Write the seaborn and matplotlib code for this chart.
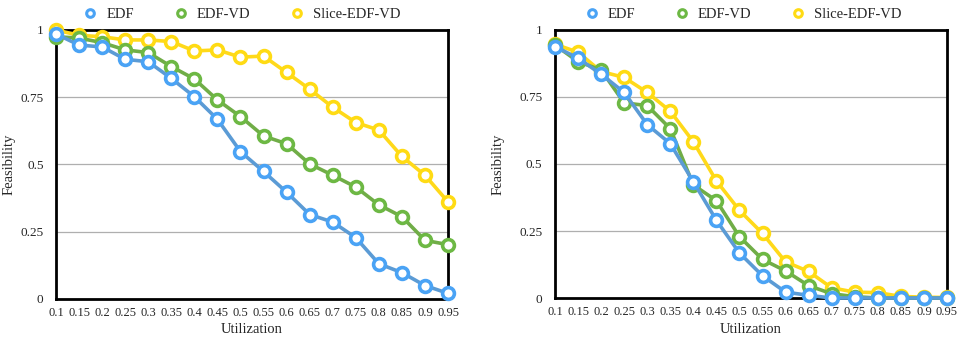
import numpy as np
import pandas as pd
import seaborn as sns
import matplotlib
matplotlib.use("Agg")
import matplotlib.pyplot as plt
from matplotlib.lines import Line2D

utilization = [0.1, 0.15, 0.2, 0.25, 0.3, 0.35, 0.4, 0.45, 0.5, 0.55,
               0.6, 0.65, 0.7, 0.75, 0.8, 0.85, 0.9, 0.95]

left_edf = [0.985, 0.944, 0.937, 0.891, 0.882, 0.82, 0.752, 0.668, 0.548, 0.474,
            0.397, 0.314, 0.286, 0.228, 0.131, 0.098, 0.05, 0.021]
left_edfvd = [0.975, 0.97, 0.953, 0.926, 0.916, 0.864, 0.818, 0.74, 0.678, 0.606,
              0.577, 0.502, 0.46, 0.416, 0.35, 0.306, 0.218, 0.202]
left_slice = [1.0, 0.98, 0.975, 0.963, 0.963, 0.957, 0.922, 0.926, 0.899, 0.903,
              0.842, 0.78, 0.713, 0.656, 0.628, 0.53, 0.46, 0.361]

right_edf = [0.938, 0.895, 0.835, 0.767, 0.647, 0.576, 0.434, 0.29, 0.168, 0.083,
             0.022, 0.01, 0.0, 0.0, 0.0, 0.0, 0.0, 0.0]
right_edfvd = [0.944, 0.882, 0.851, 0.728, 0.718, 0.632, 0.422, 0.363, 0.229, 0.144,
               0.101, 0.046, 0.016, 0.005, 0.0, 0.0, 0.0, 0.0]
right_slice = [0.947, 0.917, 0.845, 0.823, 0.767, 0.697, 0.583, 0.437, 0.327, 0.241,
               0.135, 0.099, 0.038, 0.022, 0.02, 0.006, 0.003, 0.002]

series_names = ["EDF", "EDF-VD", "Slice-EDF-VD"]
y_ticks = [0, 0.25, 0.5, 0.75, 1]
y_tick_labels = ["0", "0.25", "0.5", "0.75", "1"]
x_tick_labels = ["0.1", "0.15", "0.2", "0.25", "0.3", "0.35", "0.4", "0.45", "0.5", "0.55",
                 "0.6", "0.65", "0.7", "0.75", "0.8", "0.85", "0.9", "0.95"]

line_colors = {"EDF": "#5B9BD5", "EDF-VD": "#70AD47", "Slice-EDF-VD": "#FFD91A"}
marker_colors = {"EDF": "#4AA3F5", "EDF-VD": "#6DB844", "Slice-EDF-VD": "#FFDB14"}
zorders = {"EDF": 5, "EDF-VD": 4, "Slice-EDF-VD": 3}


def make_df(a, b, c):
    rows = []
    for name, vals in zip(series_names, [a, b, c]):
        for u, v in zip(utilization, vals):
            rows.append({"Utilization": u, "Feasibility": v, "Algorithm": name})
    return pd.DataFrame(rows)


sns.set_theme(style="white")
plt.rcParams["font.family"] = ["Liberation Serif", "DejaVu Serif"]

fig = plt.figure(figsize=(9.61, 3.40), dpi=100)
ax1 = fig.add_axes([0.0583, 0.1206, 0.4079, 0.7912])
ax2 = fig.add_axes([0.5775, 0.1235, 0.4079, 0.7883])

for ax, data, anchor_x, ylab_x in [
        (ax1, make_df(left_edf, left_edfvd, left_slice), 0.474, -0.104),
        (ax2, make_df(right_edf, right_edfvd, right_slice), 0.48, -0.128)]:
    sns.lineplot(data=data, x="Utilization", y="Feasibility", hue="Algorithm",
                 hue_order=series_names, palette=line_colors, ax=ax,
                 marker="o", markersize=8.5, linewidth=2.6, legend=False,
                 markerfacecolor="white", markeredgewidth=2.6)
    for line, name in zip(ax.lines, series_names):
        line.set_markeredgecolor(marker_colors[name])
        line.set_markerfacecolor("white")
        line.set_zorder(zorders[name])
        line.set_clip_on(False)
    ax.set_xlim(0.1, 0.95)
    ax.set_ylim(0, 1)
    ax.set_xticks(utilization)
    ax.set_xticklabels(x_tick_labels, fontsize=9)
    ax.set_yticks(y_ticks)
    ax.set_yticklabels(y_tick_labels, fontsize=9.5)
    ax.tick_params(axis="y", length=0, pad=9)
    ax.tick_params(axis="x", length=0, pad=6)
    for yv in [0.25, 0.5, 0.75]:
        ax.axhline(yv, color="#AFAFAF", linewidth=0.9, zorder=1)
    for sp in ax.spines.values():
        sp.set_color("black")
        sp.set_linewidth(2.0)
        sp.set_zorder(2)
    ax.set_xlabel("Utilization", fontsize=10.5, labelpad=3)
    ax.set_ylabel("Feasibility", fontsize=10.5)
    ax.yaxis.set_label_coords(ylab_x, 0.5)
    handles = [Line2D([], [], linestyle="none", marker="o", markersize=5.5,
                      markerfacecolor="white", markeredgewidth=2.2,
                      markeredgecolor=marker_colors[n]) for n in series_names]
    ax.legend(handles, series_names, loc="lower center", bbox_to_anchor=(anchor_x, 1.012),
              ncol=3, frameon=False, fontsize=10.5, columnspacing=2.7,
              handlelength=1.0, handletextpad=0.6, borderaxespad=0.0)

fig.savefig("out.png", dpi=100)
